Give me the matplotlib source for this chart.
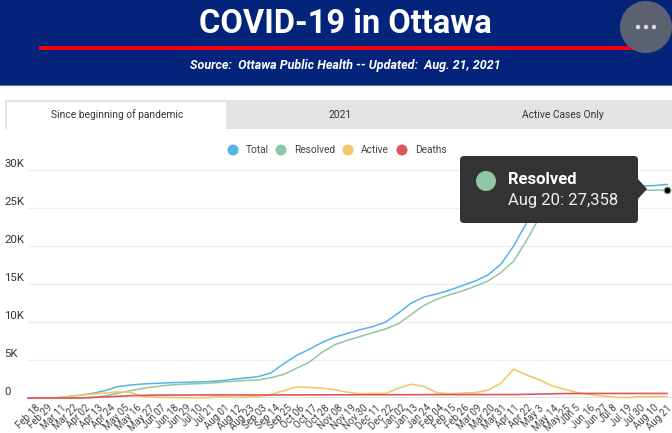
import matplotlib
matplotlib.use('Agg')
import matplotlib.pyplot as plt
from matplotlib.patches import Rectangle, Circle, Polygon, FancyBboxPatch
from matplotlib.transforms import ScaledTranslation

plt.rcParams['font.family'] = ['Roboto', 'DejaVu Sans']

dates = ['Feb 18', 'Feb 29', 'Mar 11', 'Mar 22', 'Apr 02', 'Apr 13', 'Apr 24', 'May 05', 'May 16', 'May 27',
         'Jun 07', 'Jun 18', 'Jun 29', 'Jul 10', 'Jul 21', 'Aug 01', 'Aug 12', 'Aug 23', 'Sep 03', 'Sep 14',
         'Sep 25', 'Oct 06', 'Oct 17', 'Oct 28', 'Nov 08', 'Nov 19', 'Nov 30', 'Dec 11', 'Dec 22', 'Jan 02',
         'Jan 13', 'Jan 24', 'Feb 04', 'Feb 15', 'Feb 26', 'Mar 09', 'Mar 20', 'Mar 31', 'Apr 11', 'Apr 22',
         'May 3', 'May 14', 'May 25', 'Jun 5', 'Jun 16', 'Jun 27', 'Jul 8', 'Jul 19', 'Jul 30', 'Aug 10', 'Aug 21']
total = [0, 0, 10, 170, 350, 600, 960, 1490, 1700, 1850,
         1930, 2000, 2050, 2100, 2150, 2250, 2450, 2630, 2800, 3300,
         4500, 5600, 6400, 7300, 8000, 8500, 9000, 9400, 10000, 11200,
         12500, 13300, 13700, 14200, 14800, 15400, 16200, 17600, 20000, 23000,
         25000, 26300, 27000, 27500, 27700, 27800, 27850, 27880, 27900, 27950, 28100]
resolved = [0, 0, 0, 0, 0, 80, 260, 600, 960, 1270,
            1500, 1700, 1800, 1870, 1930, 2050, 2200, 2300, 2370, 2670,
            3100, 3900, 4700, 6000, 7000, 7600, 8100, 8600, 9100, 9800,
            11000, 12200, 13000, 13600, 14100, 14700, 15400, 16500, 18000, 20700,
            23700, 25300, 26200, 26900, 27200, 27300, 27320, 27330, 27340, 27350, 27358]
active = [0, 0, 10, 150, 350, 500, 650, 800, 750, 150,
          100, 60, 40, 30, 40, 150, 90, 100, 200, 480,
          950, 1450, 1400, 1300, 1100, 750, 550, 600, 600, 1300,
          1800, 1500, 700, 550, 650, 700, 1050, 1950, 3800, 3050,
          2400, 1600, 1150, 700, 430, 260, 90, 60, 190, 190, 190]
deaths = [0, 0, 0, 0, 5, 60, 140, 220, 300, 350,
          380, 390, 395, 400, 400, 400, 400, 400, 400, 400,
          400, 405, 410, 415, 420, 420, 425, 430, 430, 430,
          435, 440, 445, 445, 445, 450, 450, 450, 455, 480,
          520, 550, 580, 590, 600, 600, 600, 600, 600, 600, 600]
yticks = [0, 5000, 10000, 15000, 20000, 25000, 30000]
ylabels = ['0', '5K', '10K', '15K', '20K', '25K', '30K']

W, H = 672, 433
blue = '#56b4e6'
green = '#8fc6a6'
yellow = '#f0c869'
red = '#e0555c'

fig = plt.figure(figsize=(W / 100, H / 100), dpi=100)

# page furniture drawn in pixel coords
bg = fig.add_axes([0, 0, 1, 1])
bg.set_xlim(0, W)
bg.set_ylim(H, 0)
bg.axis('off')
bg.add_patch(Rectangle((0, 0), W, 85, color='#04247c', lw=0))
bg.add_patch(Rectangle((0, 85), W, 1, color='#5a6ea8', lw=0))
bg.add_patch(Rectangle((39, 46), 601, 4, color='#f50010', lw=0))
bg.add_patch(Circle((646, 27), 26, color='#5c6172', lw=0))
for dx in (-8, 0, 8):
    bg.add_patch(Circle((646 + dx, 27), 2.2, color='#d9dbe2', lw=0))
bg.text(345.5, 24, 'COVID-19 in Ottawa', color='white', fontsize=23.5, fontweight='bold', ha='center', va='center')
bg.text(345.5, 65, 'Source:  Ottawa Public Health -- Updated:  Aug. 21, 2021', color='white',
        fontsize=9, fontweight='bold', style='italic', ha='center', va='center')

bg.add_patch(Rectangle((5, 100), W - 5, 29, color='#e3e3e3', lw=0))
bg.add_patch(Rectangle((7, 102), 219, 28, color='white', lw=0))
bg.text(117, 115, 'Since beginning of pandemic', fontsize=7.4, color='#333333', ha='center', va='center')
bg.text(340, 115, '2021', fontsize=7.4, color='#333333', ha='center', va='center')
bg.text(563, 115, 'Active Cases Only', fontsize=7.4, color='#333333', ha='center', va='center')

for x, c, name in [(233, blue, 'Total'), (281, green, 'Resolved'), (348, yellow, 'Active'), (402, red, 'Deaths')]:
    bg.add_patch(Circle((x, 150), 5.5, color=c, lw=0))
    bg.text(x + 13, 150, name, fontsize=7.3, color='#444444', va='center')

# chart
ax = fig.add_axes([28 / W, 1 - 398 / H, (W - 28) / W, 228 / H])
ax.patch.set_alpha(0)
days = [i * 11 for i in range(len(dates))]
ax.set_xlim(0, 644 / 12.78 * 11)
ax.set_ylim(0, 30000)
for s in ax.spines.values():
    s.set_visible(False)
ax.set_yticks(yticks)
ax.set_yticklabels([])
ax.tick_params(axis='y', length=0)
ax.grid(axis='y', color='#eeeeee', lw=0.9)
ax.set_axisbelow(True)
ax.axhline(0, color='#dddddd', lw=1.2)
for v, lab in zip(yticks, ylabels):
    ax.annotate(lab, xy=(0, v), xycoords=('figure pixels', 'data'), xytext=(4, 6), textcoords='offset pixels',
                fontsize=8.2, color='#333333', va='center', ha='left', annotation_clip=False)

ax.plot(days, total, color=blue, lw=1.1, clip_on=False)
ax.plot(days, resolved, color=green, lw=1.1, clip_on=False)
ax.plot(days, active, color=yellow, lw=1.2, clip_on=False)
ax.plot(days, deaths, color=red, lw=1.2, clip_on=False)
ax.plot(days[-1], resolved[-1], 'o', ms=5, color='black', mec=green, mew=0.8, clip_on=False, zorder=5)

ax.set_xticks(days)
ax.set_xticklabels(dates, rotation=45, ha='center', fontsize=7, color='#444444')
ax.tick_params(axis='x', length=0, pad=3.5)
# labels drift a little left of the ticks towards the right edge
for i, lab in enumerate(ax.get_xticklabels()):
    lab.set_transform(lab.get_transform() + ScaledTranslation(-i / 50 * 8 / 100, 0, fig.dpi_scale_trans))

# tooltip on top
tip = fig.add_axes([0, 0, 1, 1])
tip.set_xlim(0, W)
tip.set_ylim(H, 0)
tip.axis('off')
tip.add_patch(FancyBboxPatch((464, 160), 170, 59, boxstyle='round,pad=4,rounding_size=4', color='#333333', lw=0))
tip.add_patch(Polygon([(637, 178), (647, 189), (637, 200)], color='#333333', lw=0))
tip.add_patch(Circle((486, 181), 10, color=green, lw=0))
tip.text(508, 180, 'Resolved', color='white', fontsize=12, fontweight='bold', va='center')
tip.text(508, 201, 'Aug 20: 27,358', color='#f0f0f0', fontsize=12, va='center')

fig.savefig('out.png', dpi=100)
